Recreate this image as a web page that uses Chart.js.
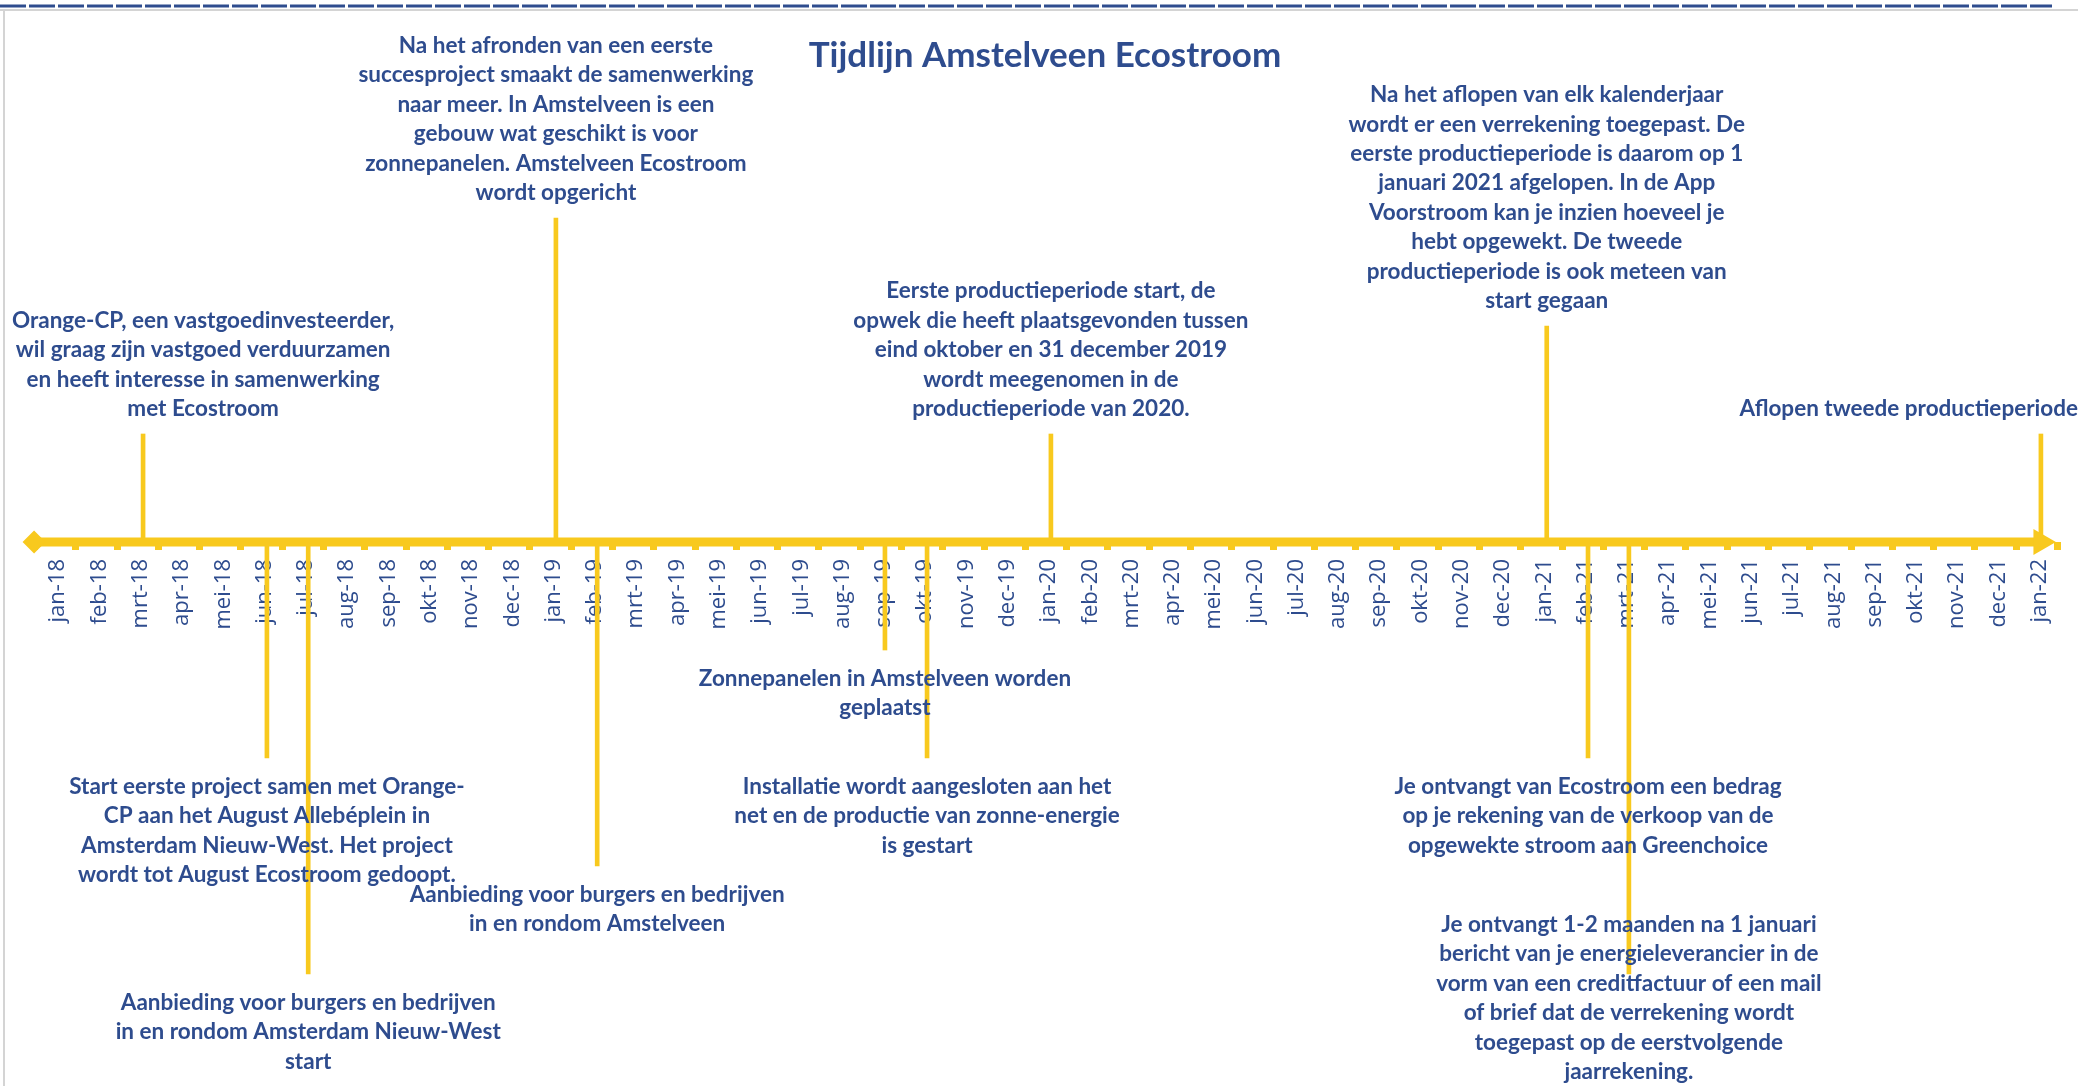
<!DOCTYPE html>
<html>
<head>
<meta charset="utf-8">
<title>Tijdlijn Amstelveen Ecostroom</title>
<script src="https://cdn.jsdelivr.net/npm/chart.js@4/dist/chart.umd.min.js"></script>
<style>
	html, body { margin: 0; padding: 0; background: #ffffff; }
	canvas { display: block; }
</style>
</head>
<body>
<canvas id="timeline-chart" width="2078" height="1086"></canvas>
<script>
"use strict";

const chartTitle = "Tijdlijn Amstelveen Ecostroom";

const monthLabels = [
	"jan-18", "feb-18", "mrt-18", "apr-18", "mei-18", "jun-18", "jul-18", "aug-18", "sep-18", "okt-18", "nov-18", "dec-18",
	"jan-19", "feb-19", "mrt-19", "apr-19", "mei-19", "jun-19", "jul-19", "aug-19", "sep-19", "okt-19", "nov-19", "dec-19",
	"jan-20", "feb-20", "mrt-20", "apr-20", "mei-20", "jun-20", "jul-20", "aug-20", "sep-20", "okt-20", "nov-20", "dec-20",
	"jan-21", "feb-21", "mrt-21", "apr-21", "mei-21", "jun-21", "jul-21", "aug-21", "sep-21", "okt-21", "nov-21", "dec-21",
	"jan-22"
];

// month index (0 = jan-18) of every event, and the height of its marker line
const eventMonth = [2.13, 12.13, 5.13, 6.13, 13.13, 20.1, 21.12, 24.12, 36.13, 48.1, 37.13, 38.12];
const eventHeight = [10, 30, -20, -40, -30, -10, -20, 10, 20, 10, -20, -40];

const eventText = [
	["Orange-CP, een vastgoedinvesteerder,", "wil graag zijn vastgoed verduurzamen", "en heeft interesse in samenwerking", "met Ecostroom"],
	["Na het afronden van een eerste", "succesproject smaakt de samenwerking", "naar meer. In Amstelveen is een", "gebouw wat geschikt is voor", "zonnepanelen. Amstelveen Ecostroom", "wordt opgericht"],
	["Start eerste project samen met Orange-", "CP aan het August Allebéplein in", "Amsterdam Nieuw-West. Het project", "wordt tot August Ecostroom gedoopt."],
	["Aanbieding voor burgers en bedrijven", "in en rondom Amsterdam Nieuw-West", "start"],
	["Aanbieding voor burgers en bedrijven", "in en rondom Amstelveen"],
	["Zonnepanelen in Amstelveen worden", "geplaatst"],
	["Installatie wordt aangesloten aan het", "net en de productie van zonne-energie", "is gestart"],
	["Eerste productieperiode start, de", "opwek die heeft plaatsgevonden tussen", "eind oktober en 31 december 2019", "wordt meegenomen in de", "productieperiode van 2020."],
	["Na het aflopen van elk kalenderjaar", "wordt er een verrekening toegepast. De", "eerste productieperiode is daarom op 1", "januari 2021 afgelopen. In de App", "Voorstroom kan je inzien hoeveel je", "hebt opgewekt. De tweede", "productieperiode is ook meteen van", "start gegaan"],
	["Aflopen tweede productieperiode"],
	["Je ontvangt van Ecostroom een bedrag", "op je rekening van de verkoop van de", "opgewekte stroom aan Greenchoice"],
	["Je ontvangt 1-2 maanden na 1 januari", "bericht van je energieleverancier in de", "vorm van een creditfactuur of een mail", "of brief dat de verrekening wordt", "toegepast op de eerstvolgende", "jaarrekening."]
];

// start (diamond) and end (arrow) of the time axis, in months
const axisStart = -0.51;
const axisEnd = 48.1;

const YELLOW = "#F8C91E";
const TEXT_BLUE = "#2E4C8E";
const LABEL_FONT = "bold 22.5px Lato";
const LINE_HEIGHT = 29.4;


const frameAndTitle = {
	id: "frameAndTitle",
	beforeDraw(chart) {
		const ctx = chart.ctx;
		ctx.save();
		ctx.fillStyle = "#ffffff";
		ctx.fillRect(0, 0, chart.width, chart.height);

		ctx.strokeStyle = TEXT_BLUE;
		ctx.lineWidth = 3;
		ctx.setLineDash([26, 3]);
		ctx.beginPath();
		ctx.moveTo(0, 6);
		ctx.lineTo(2052, 6);
		ctx.stroke();

		ctx.setLineDash([]);
		ctx.strokeStyle = "#d4d4d4";
		ctx.lineWidth = 2;
		ctx.beginPath();
		ctx.moveTo(0, 10);
		ctx.lineTo(chart.width, 10);
		ctx.moveTo(4, 10);
		ctx.lineTo(4, chart.height);
		ctx.stroke();

		ctx.fillStyle = TEXT_BLUE;
		ctx.font = "bold 35px Lato";
		ctx.textAlign = "center";
		ctx.textBaseline = "alphabetic";
		ctx.fillText(chartTitle, 1045, 67);
		ctx.restore();
	}
};


const eventLabels = {
	id: "eventLabels",
	afterDatasetsDraw(chart) {
		const {ctx, scales: {x, y}} = chart;
		ctx.save();
		ctx.font = LABEL_FONT;
		ctx.fillStyle = TEXT_BLUE;
		ctx.textAlign = "center";
		ctx.textBaseline = "alphabetic";

		eventMonth.forEach((month, i) => {
			const lines = eventText[i];
			const px = x.getPixelForValue(month);
			const py = y.getPixelForValue(eventHeight[i]);
			const widest = Math.max(...lines.map(line => ctx.measureText(line).width));
			const cx = Math.min(Math.max(px, 12 + widest / 2), chart.width - widest / 2);

			let first;
			if (eventHeight[i] > 0) {
				first = py - 18 - (lines.length - 1) * LINE_HEIGHT;
			} else {
				first = py + 36;
			}
			first = Math.min(first, chart.height - 7 - (lines.length - 1) * LINE_HEIGHT);

			lines.forEach((line, k) => {
				ctx.fillText(line, cx, first + k * LINE_HEIGHT);
			});
		});
		ctx.restore();
	}
};


function monthTickLabel(value) {
	if (Number.isInteger(value) && value >= 0 && value < monthLabels.length) {
		return monthLabels[value];
	}
	return "";
}

function tickMarkColor(context) {
	const value = context.tick ? context.tick.value : 0;
	return Number.isInteger(value) ? "rgba(0,0,0,0)" : YELLOW;
}

// the rotated labels must not eat into the plot area
function noScalePadding(scale) {
	scale.paddingLeft = 0;
	scale.paddingRight = 0;
	scale.paddingTop = 0;
	scale.paddingBottom = 0;
}


function displayTimeline() {
	const ctx = document.querySelector("#timeline-chart").getContext("2d");
	new Chart(ctx, {
		type: "bar",
		data: {
			datasets: [{
				type: "line",
				label: "as",
				data: [{x: axisStart, y: 0}, {x: axisEnd, y: 0}],
				borderColor: YELLOW,
				borderWidth: 9,
				borderCapStyle: "butt",
				pointStyle: ["rectRot", "triangle"],
				pointRadius: [11.5, 15],
				pointRotation: [0, 90],
				pointBackgroundColor: YELLOW,
				pointBorderWidth: 0,
				clip: false,
				order: 1
			}, {
				type: "bar",
				label: "gebeurtenissen",
				data: eventMonth.map((month, i) => ({x: month, y: [0, eventHeight[i]]})),
				backgroundColor: YELLOW,
				borderWidth: 0,
				barThickness: 4,
				order: 2
			}]
		},
		options: {
			responsive: false,
			animation: false,
			layout: {
				autoPadding: false,
				padding: {left: 6, right: 2, top: 2, bottom: 4}
			},
			plugins: {
				legend: {display: false},
				tooltip: {enabled: false}
			},
			scales: {
				x: {
					type: "linear",
					position: {y: 0},
					min: -1.19,
					max: 48.95,
					offset: false,
					afterFit: noScalePadding,
					border: {display: false},
					grid: {
						offset: false,
						drawOnChartArea: false,
						drawTicks: true,
						tickLength: 8,
						tickWidth: 7,
						color: tickMarkColor,
						tickColor: tickMarkColor
					},
					ticks: {
						stepSize: 0.5,
						includeBounds: false,
						autoSkip: false,
						minRotation: 90,
						maxRotation: 90,
						padding: 9,
						labelOffset: 3,
						color: TEXT_BLUE,
						font: {family: "'Open Sans'", size: 22},
						callback: monthTickLabel
					}
				},
				y: {
					type: "linear",
					display: false,
					min: -50,
					max: 50,
					afterFit: noScalePadding
				}
			}
		},
		plugins: [frameAndTitle, eventLabels]
	});
}

displayTimeline();
</script>
</body>
</html>
